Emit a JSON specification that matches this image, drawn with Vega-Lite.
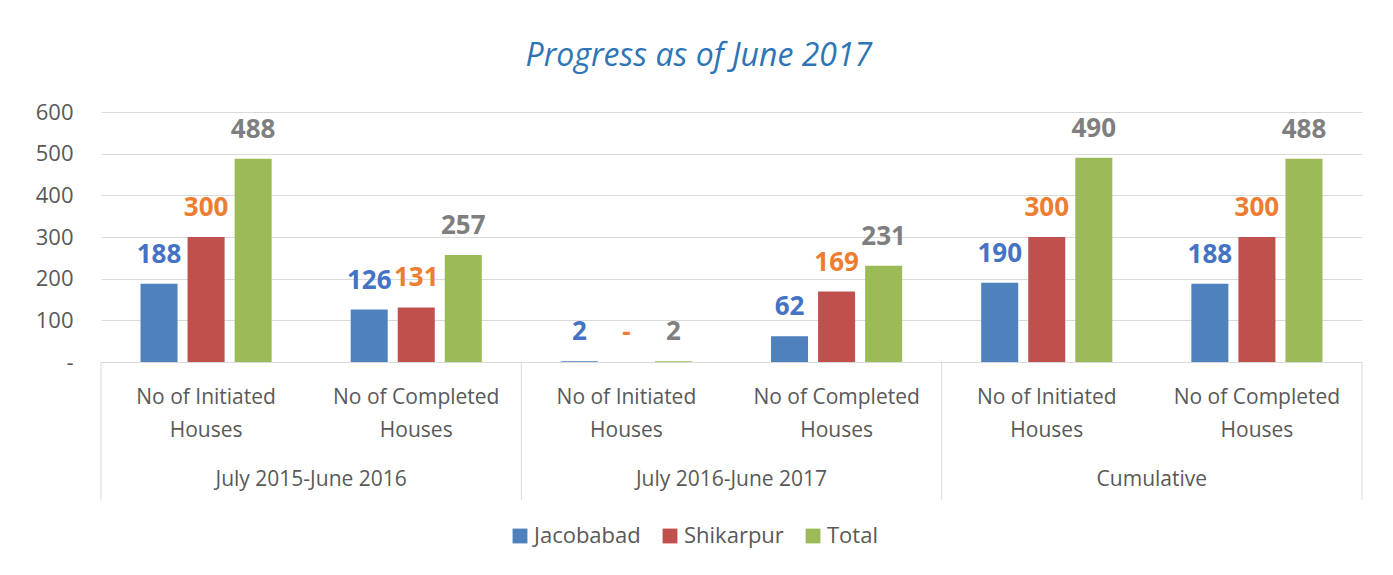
{
  "$schema": "https://vega.github.io/schema/vega-lite/v6.json",
  "width": 1261,
  "height": 250,
  "autosize": {"type": "none"},
  "padding": {"left": 101, "top": 112, "right": 31, "bottom": 213},
  "background": "white",
  "title": {
    "text": "Progress as of June 2017",
    "font": "Open Sans",
    "fontStyle": "italic",
    "fontWeight": "normal",
    "fontSize": 32,
    "color": "#2E75B6",
    "anchor": "middle",
    "frame": "bounds",
    "offset": 28
  },
  "config": {
    "font": "Open Sans",
    "view": {"stroke": null}
  },
  "data": {
    "values": [
      {"period": "July 2015-June 2016", "cat": "P1 Initiated", "series": "Jacobabad", "value": 188},
      {"period": "July 2015-June 2016", "cat": "P1 Initiated", "series": "Shikarpur", "value": 300},
      {"period": "July 2015-June 2016", "cat": "P1 Initiated", "series": "Total", "value": 488},
      {"period": "July 2015-June 2016", "cat": "P1 Completed", "series": "Jacobabad", "value": 126},
      {"period": "July 2015-June 2016", "cat": "P1 Completed", "series": "Shikarpur", "value": 131},
      {"period": "July 2015-June 2016", "cat": "P1 Completed", "series": "Total", "value": 257},
      {"period": "July 2016-June 2017", "cat": "P2 Initiated", "series": "Jacobabad", "value": 2},
      {"period": "July 2016-June 2017", "cat": "P2 Initiated", "series": "Shikarpur", "value": 0},
      {"period": "July 2016-June 2017", "cat": "P2 Initiated", "series": "Total", "value": 2},
      {"period": "July 2016-June 2017", "cat": "P2 Completed", "series": "Jacobabad", "value": 62},
      {"period": "July 2016-June 2017", "cat": "P2 Completed", "series": "Shikarpur", "value": 169},
      {"period": "July 2016-June 2017", "cat": "P2 Completed", "series": "Total", "value": 231},
      {"period": "Cumulative", "cat": "P3 Initiated", "series": "Jacobabad", "value": 190},
      {"period": "Cumulative", "cat": "P3 Initiated", "series": "Shikarpur", "value": 300},
      {"period": "Cumulative", "cat": "P3 Initiated", "series": "Total", "value": 490},
      {"period": "Cumulative", "cat": "P3 Completed", "series": "Jacobabad", "value": 188},
      {"period": "Cumulative", "cat": "P3 Completed", "series": "Shikarpur", "value": 300},
      {"period": "Cumulative", "cat": "P3 Completed", "series": "Total", "value": 488}
    ]
  },
  "layer": [
    {
      "mark": {"type": "bar"},
      "encoding": {
        "x": {
          "field": "cat",
          "type": "nominal",
          "scale": {
            "domain": ["P1 Initiated", "P1 Completed", "P2 Initiated", "P2 Completed", "P3 Initiated", "P3 Completed"],
            "paddingInner": 0,
            "paddingOuter": 0
          },
          "axis": {
            "title": null,
            "labelAngle": 0,
            "labelExpr": "indexof(datum.value,'Initiated')>=0 ? ['No of Initiated','Houses'] : ['No of Completed','Houses']",
            "labelFontSize": 21,
            "labelColor": "#595959",
            "labelLineHeight": 33,
            "labelPadding": 24,
            "labelBaseline": "top",
            "ticks": false,
            "domainColor": "#D9D9D9",
            "domainWidth": 1,
            "grid": false
          }
        },
        "xOffset": {
          "field": "series",
          "type": "nominal",
          "scale": {"paddingInner": 0.213, "paddingOuter": 0.84}
        },
        "y": {
          "field": "value",
          "type": "quantitative",
          "scale": {"domain": [0, 600], "nice": false},
          "axis": {
            "title": null,
            "values": [0, 100, 200, 300, 400, 500, 600],
            "labelExpr": "datum.value == 0 ? '-' : datum.label",
            "labelFontSize": 22,
            "labelColor": "#595959",
            "labelPadding": 28,
            "domain": false,
            "ticks": false,
            "grid": true,
            "gridColor": "#D9D9D9"
          }
        },
        "color": {
          "field": "series",
          "type": "nominal",
          "scale": {"domain": ["Jacobabad", "Shikarpur", "Total"], "range": ["#4F81BD", "#C0504D", "#9BBB59"]},
          "legend": {
            "title": null,
            "orient": "none",
            "legendX": 408,
            "legendY": 413,
            "direction": "horizontal",
            "symbolType": "square",
            "symbolSize": 220,
            "symbolStrokeWidth": 0,
            "labelFontSize": 22,
            "labelColor": "#595959",
            "labelOffset": 3,
            "columnPadding": 18
          }
        }
      }
    },
    {
      "mark": {"type": "text", "baseline": "middle", "dy": -29, "fontSize": 26, "fontWeight": "bold"},
      "encoding": {
        "x": {"field": "cat", "type": "nominal"},
        "xOffset": {"field": "series", "type": "nominal"},
        "y": {"field": "value", "type": "quantitative"},
        "text": {"condition": {"test": "datum.value === 0", "value": "-"}, "field": "value", "type": "quantitative"},
        "color": {
          "field": "series",
          "type": "nominal",
          "scale": {"domain": ["Jacobabad", "Shikarpur", "Total"], "range": ["#4472C4", "#ED7D31", "#7F7F7F"]},
          "legend": null
        }
      }
    },
    {
      "data": {"values": [{"cat": "P1 Initiated"}, {"cat": "P2 Initiated"}, {"cat": "P3 Initiated"}]},
      "mark": {"type": "rule", "color": "#D9D9D9", "strokeWidth": 1},
      "encoding": {
        "x": {"field": "cat", "type": "nominal", "bandPosition": 0},
        "y": {"datum": 0, "type": "quantitative"},
        "y2": {"datum": -331}
      }
    },
    {
      "data": {"values": [{"cat": "P3 Completed"}]},
      "mark": {"type": "rule", "color": "#D9D9D9", "strokeWidth": 1},
      "encoding": {
        "x": {"field": "cat", "type": "nominal", "bandPosition": 1},
        "y": {"datum": 0, "type": "quantitative"},
        "y2": {"datum": -331}
      }
    },
    {
      "data": {"values": [
        {"cat": "P1 Completed", "period": "July 2015-June 2016"},
        {"cat": "P2 Completed", "period": "July 2016-June 2017"},
        {"cat": "P3 Completed", "period": "Cumulative"}
      ]},
      "mark": {"type": "text", "fontSize": 21, "color": "#595959", "baseline": "middle"},
      "encoding": {
        "x": {"field": "cat", "type": "nominal", "bandPosition": 0},
        "y": {"datum": -283, "type": "quantitative"},
        "text": {"field": "period"}
      }
    }
  ],
  "resolve": {"scale": {"color": "independent"}}
}
